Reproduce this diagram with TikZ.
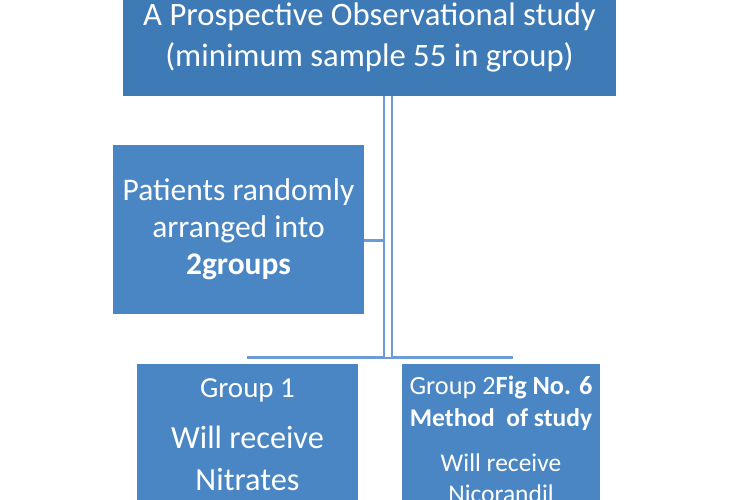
\documentclass[tikz,border=0pt]{standalone}
\usepackage{fontspec}
\setmainfont{Carlito}
\usetikzlibrary{calc}
\usetikzlibrary{positioning}
\definecolor{TopBlue}{HTML}{3E7AB6}
\definecolor{BoxBlue}{HTML}{4A86C3}
\definecolor{LineBlue}{HTML}{6C9CD8}

\begin{document}
\begin{tikzpicture}[x=1pt, y=-1pt,
  box/.style={rectangle, fill=BoxBlue, text=white, align=center, inner sep=0pt},
  dblline/.style={draw=LineBlue, line width=2pt, double=white, double distance=6pt},
  barline/.style={draw=LineBlue, line width=3pt}]
  \useasboundingbox (0,0) rectangle (750,499);
  \clip (0,0) rectangle (750,499);

  \node[box, fill=TopBlue, minimum width=493pt, minimum height=117pt,
        font=\fontsize{32.7}{41}\selectfont] (study) at (369.5,37.5)
    {A Prospective Observational study\\(minimum sample 55 in group)};

  \node[box, minimum width=251pt, minimum height=169pt,
        font=\fontsize{31.5}{37}\selectfont] (random) at (238.5,229.5)
    {Patients randomly\\arranged into\\\textbf{2groups}};

  \node[box, minimum width=221pt, minimum height=141pt,
        font=\fontsize{32.3}{42}\selectfont] (groupA) at (247.5,434.5)
    {{\fontsize{29}{29}\selectfont Group 1}\\[9pt]Will receive\\Nitrates};

  \node[box, minimum width=198pt, minimum height=150pt,
        font=\fontsize{25.5}{32}\selectfont] (groupB) at (501,439)
    {{\fontsize{26.3}{32}\selectfont Group 2\textbf{Fig No. 6}}\\\textbf{Method\ \ of study}\\[13pt]Will receive\\[-1pt]Nicorandil};

  \coordinate (split)  at (388,357);
  \coordinate (splitL) at (247,357);
  \coordinate (splitR) at (513,357);
  \coordinate (tick)   at (383,240);

  \draw[barline] (splitL) -- (splitR);
  \draw[dblline] (study.south -| split) -- (split);
  \draw[barline] (random.east |- tick) -- (tick);
\end{tikzpicture}
\end{document}
